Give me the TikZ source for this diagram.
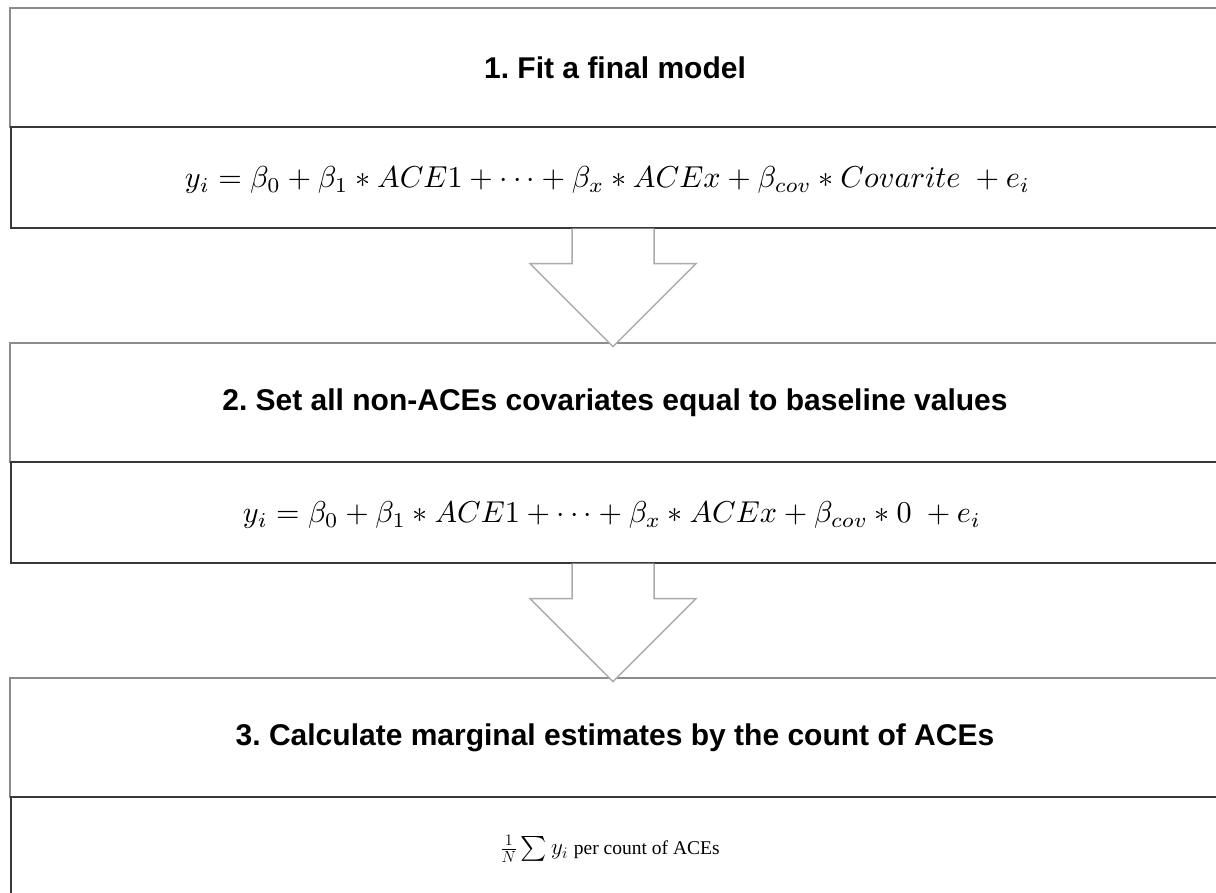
\documentclass[tikz,border=0pt]{standalone}
\usepackage{fix-cm}
\usepackage{exscale}
\usepackage{fontspec}
\setmainfont{Liberation Sans}
\newfontfamily\serifw{Liberation Serif}
\usetikzlibrary{calc}
\frenchspacing
\begin{document}
\begin{tikzpicture}[x=1pt,y=-1pt,
  headbox/.style={draw=black!45, line width=1.2pt, minimum width=1210pt, minimum height=119pt, inner sep=0pt, font=\bfseries\fontsize{30}{34}\selectfont},
  bodybox/.style={draw=black!78, line width=1.3pt, minimum width=1209pt, minimum height=101pt, inner sep=0pt},
  eqn/.style={inner sep=0pt, anchor=center},
  bigarrow/.style={draw=black!33, line width=1.5pt, fill=white, line join=miter}]
\useasboundingbox (0,0) rectangle (1216,893);
% box 1
\node[headbox] (h1) at (615,67.5) {1. Fit a final model};
\node[bodybox] (f1) at (615.5,177.5) {};
\node[eqn] (e1) at (607.5,180) {\resizebox{845pt}{!}{$y_i=\beta_0+\beta_1\ast ACE1+\cdots+\beta_x\ast ACEx+\beta_{cov}\ast Covarite\ +e_i$}};
% box 2
\node[headbox] (h2) at (615,402.5) {2. Set all non-ACEs covariates equal to baseline values};
\node[bodybox] (f2) at (615.5,512.5) {};
\node[eqn] (e2) at (612,515) {\resizebox{738pt}{!}{$y_i=\beta_0+\beta_1\ast ACE1+\cdots+\beta_x\ast ACEx+\beta_{cov}\ast 0\ +e_i$}};
% box 3
\node[headbox] (h3) at (615,737.5) {3. Calculate marginal estimates by the count of ACEs};
\node[bodybox] (f3) at (615.5,847.5) {};
\node[eqn] (e3) at (610,849) {\fontsize{23}{27}\selectfont$\frac{1}{N}\sum y_i$\hspace{6pt}{\serifw\fontsize{19.5}{24}\selectfont per count of ACEs}};
% arrows
\draw[bigarrow] ($(f1.south)+(-43.5,0)$) -- ++(0,35) -- ++(-42,0) -- ++(83,83) -- ++(83,-83) -- ++(-42,0) -- ++(0,-35);
\draw[bigarrow] ($(f2.south)+(-43.5,0)$) -- ++(0,35) -- ++(-42,0) -- ++(83,83) -- ++(83,-83) -- ++(-42,0) -- ++(0,-35);
\end{tikzpicture}
\end{document}
